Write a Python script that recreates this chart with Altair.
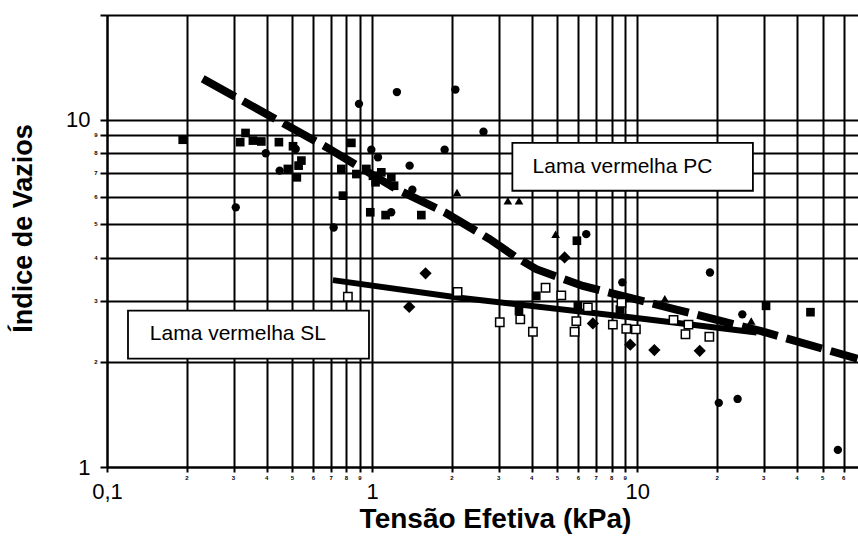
import altair as alt
import pandas as pd

# ---- measured points (tension in kPa, void ratio) ----
sq_x = [0.193, 0.333, 0.318, 0.355, 0.382, 0.445, 0.503, 0.541, 0.528, 0.481, 0.520,
        0.835, 0.765, 0.872, 0.951, 1.007, 1.083, 1.03, 1.181, 1.21, 0.776, 0.984,
        1.124, 1.533, 5.92, 3.58, 4.16, 5.97, 8.6, 30.6, 45.0]
sq_y = [8.75, 9.15, 8.61, 8.70, 8.65, 8.61, 8.38, 7.62, 7.37, 7.21, 6.82,
        8.57, 7.21, 6.97, 7.21, 6.89, 7.05, 6.60, 6.82, 6.45, 6.04, 5.41,
        5.31, 5.31, 4.48, 2.81, 3.11, 2.91, 2.84, 2.91, 2.79]

ci_x = [0.397, 0.515, 0.448, 0.306, 1.24, 2.06, 0.892, 2.63, 0.993, 1.052, 1.877,
        1.385, 1.18, 1.418, 0.716, 6.42, 8.78, 18.8, 24.9, 20.3, 23.9, 57.1]
ci_y = [8.0, 8.23, 7.13, 5.59, 12.0, 12.2, 11.1, 9.23, 8.19, 7.79, 8.19,
        7.37, 5.41, 6.28, 4.89, 4.68, 3.40, 3.63, 2.75, 1.53, 1.57, 1.12]

tr_x = [2.09, 3.25, 3.58, 4.92, 12.7, 26.9]
tr_y = [6.17, 5.84, 5.84, 4.68, 3.05, 2.63]

di_x = [5.32, 1.59, 1.38, 6.80, 9.41, 11.6, 17.2]
di_y = [4.01, 3.61, 2.89, 2.59, 2.25, 2.17, 2.16]

os_x = [0.81, 2.10, 3.03, 3.62, 4.04, 4.51, 5.17, 6.51, 5.89, 5.8, 8.09, 8.72,
        9.09, 9.88, 13.7, 15.6, 15.2, 18.7]
os_y = [3.09, 3.19, 2.61, 2.66, 2.45, 3.28, 3.12, 2.88, 2.63, 2.45, 2.57, 2.97,
        2.50, 2.49, 2.65, 2.57, 2.41, 2.37]

# ---- trend lines ----
pc_x = [0.2296, 0.672, 1.234, 1.877, 2.773, 3.498, 4.162, 6.236, 14.03, 29.35, 67.7]
pc_y = [13.10, 8.33, 6.31, 5.41, 4.53, 4.01, 3.71, 3.32, 2.84, 2.46, 2.05]

sl_x = [0.711, 2.138, 8.58, 28.2]
sl_y = [3.45, 3.07, 2.72, 2.44]

# ---- annotation boxes ----
box_labels = ["Lama vermelha PC", "Lama vermelha SL"]
box_x1 = [3.38, 0.120]
box_x2 = [27.3, 0.973]
box_y1 = [8.57, 2.82]
box_y2 = [6.24, 2.05]
box_tx = [4.03, 0.145]
box_ty = [7.30, 2.41]

# ---- grid / tick values ----
x_grid = [0.1, 0.2, 0.3, 0.4, 0.5, 0.6, 0.7, 0.8, 0.9,
          1, 2, 3, 4, 5, 6, 7, 8, 9, 10, 20, 30, 40, 50, 60]
y_grid = [1, 2, 3, 4, 5, 6, 7, 8, 9, 10, 20]
x_minor = [v for v in x_grid if v not in (0.1, 1, 10)]
x_minor_txt = ["2", "3", "4", "5", "6", "7", "8", "9",
               "2", "3", "4", "5", "6", "7", "8", "9",
               "2", "3", "4", "5", "6"]
y_minor = [2, 3, 4, 5, 6, 7, 8, 9]
y_minor_txt = ["2", "3", "4", "5", "6", "7", "8", "9"]

FONT = "Liberation Sans"

xscale = alt.Scale(type="log", domain=[0.1, 68], nice=False)
yscale = alt.Scale(type="log", domain=[1, 20], nice=False)

x_enc = alt.X(
    "x:Q", scale=xscale,
    axis=alt.Axis(
        values=x_grid, grid=True,
        labelExpr="datum.value == 0.1 ? '0,1' : (datum.value == 1 ? '1' : (datum.value == 10 ? '10' : ''))",
        labelFontSize=22, labelPadding=9, tickSize=5, labelFlush=False, labelOverlap=False,
        title="Tensão Efetiva (kPa)", titleFontSize=28, titleFontWeight="bold",
        titleX=388, titleY=60, titleAlign="center", titleBaseline="alphabetic",
    ),
)
y_enc = alt.Y(
    "y:Q", scale=yscale,
    axis=alt.Axis(
        values=y_grid, grid=True,
        labelExpr="datum.value == 1 ? '1' : (datum.value == 10 ? '10' : '')",
        labelFontSize=22, labelPadding=10, tickSize=7, labelFlush=False, labelOverlap=False,
        title="Índice de Vazios", titleFontSize=27, titleFontWeight="bold",
        titleX=-84, titleY=213, titleAlign="center", titleBaseline="middle", titleAngle=270,
    ),
)


def frame(xs, ys):
    return pd.DataFrame({"x": xs, "y": ys})


pc_line = alt.Chart(frame(pc_x, pc_y)).mark_line(
    color="black", strokeWidth=8, strokeDash=[37, 9], strokeCap="butt"
).encode(x=x_enc, y=y_enc)

sl_line = alt.Chart(frame(sl_x, sl_y)).mark_line(
    color="black", strokeWidth=6
).encode(x="x:Q", y="y:Q")

squares = alt.Chart(frame(sq_x, sq_y)).mark_point(
    shape="square", filled=True, color="black", size=75, opacity=1
).encode(x="x:Q", y="y:Q")

circles = alt.Chart(frame(ci_x, ci_y)).mark_point(
    shape="circle", filled=True, color="black", size=70, opacity=1
).encode(x="x:Q", y="y:Q")

triangles = alt.Chart(frame(tr_x, tr_y)).mark_point(
    shape="triangle-up", filled=True, color="black", size=75, opacity=1
).encode(x="x:Q", y="y:Q")

diamonds = alt.Chart(frame(di_x, di_y)).mark_point(
    shape="diamond", filled=True, color="black", size=150, opacity=1
).encode(x="x:Q", y="y:Q")

open_sq = alt.Chart(frame(os_x, os_y)).mark_point(
    shape="square", filled=True, fill="white", stroke="black", strokeWidth=1.5,
    size=70, opacity=1
).encode(x="x:Q", y="y:Q")

boxes_df = pd.DataFrame({
    "label": box_labels, "x": box_x1, "x2": box_x2, "y": box_y1, "y2": box_y2,
    "tx": box_tx, "ty": box_ty,
})

boxes = alt.Chart(boxes_df).mark_rect(
    fill="white", stroke="black", strokeWidth=1.8
).encode(x="x:Q", x2="x2:Q", y="y:Q", y2="y2:Q")

box_text = alt.Chart(boxes_df).mark_text(
    align="left", baseline="middle", fontSize=21, font=FONT, color="black"
).encode(x="tx:Q", y="ty:Q", text="label:N")

x_minor_lbl = alt.Chart(pd.DataFrame({"x": x_minor, "t": x_minor_txt})).mark_text(
    fontSize=6, font=FONT, fontWeight="bold", color="black", baseline="middle"
).encode(x="x:Q", y=alt.value(463), text="t:N")

y_minor_lbl = alt.Chart(pd.DataFrame({"y": y_minor, "t": y_minor_txt})).mark_text(
    fontSize=6, font=FONT, fontWeight="bold", color="black", baseline="middle"
).encode(x=alt.value(-11), y="y:Q", text="t:N")

chart = alt.layer(
    pc_line, sl_line, squares, circles, triangles, diamonds, open_sq,
    boxes, box_text, x_minor_lbl, y_minor_lbl,
).properties(
    width=751, height=452,
    padding={"left": 107, "top": 15, "right": 0, "bottom": 69},
    autosize=alt.AutoSizeParams(type="none"),
    background="white",
).configure_view(
    strokeWidth=0
).configure_axis(
    labelFont=FONT, titleFont=FONT, labelColor="black", titleColor="black",
    domainColor="black", domainWidth=2, tickColor="black", tickWidth=2,
    gridColor="black", gridWidth=2, gridOpacity=1,
)

chart.save("out.html", embed_options={"renderer": "svg", "actions": False})
